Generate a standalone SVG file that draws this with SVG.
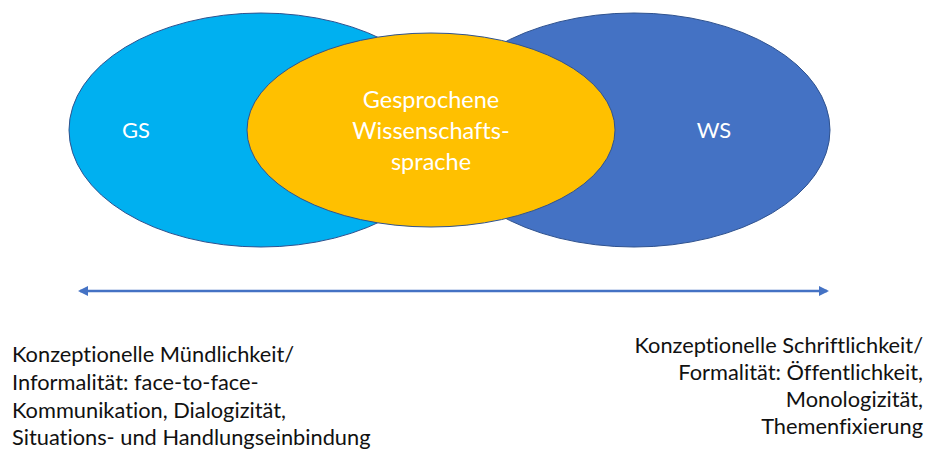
<svg xmlns="http://www.w3.org/2000/svg" width="929" height="449" viewBox="0 0 929 449">
<defs>
<style>
text{font-variant-ligatures:none}
.ell{stroke:#2F528F;stroke-width:1}
.lbl{font-family:"Lato","Open Sans","Liberation Sans",sans-serif;font-size:22px;fill:#FFFFFF}
.mid{font-size:23.5px}
.cap{font-family:"Lato","Open Sans","Liberation Sans",sans-serif;font-size:21.8px;fill:#111111}
.conn{stroke:#4472C4;stroke-width:2.5;fill:none}
</style>
<marker id="ah" viewBox="0 0 10 10" refX="8" refY="5" markerWidth="4" markerHeight="4" orient="auto-start-reverse" markerUnits="strokeWidth">
<path d="M0,0 L10,5 L0,10 Z" fill="#4472C4"/>
</marker>
</defs>
<rect width="929" height="449" fill="#FFFFFF"/>
<g id="GS">
<ellipse class="ell" cx="261" cy="130" rx="192" ry="117" fill="#00B0F0"/>
<text class="lbl" x="136" y="138" text-anchor="middle">GS</text>
</g>
<g id="WS">
<ellipse class="ell" cx="634" cy="130" rx="196" ry="117" fill="#4472C4"/>
<text class="lbl" x="714" y="138" text-anchor="middle">WS</text>
</g>
<g id="GWS">
<ellipse class="ell" cx="431" cy="130" rx="184" ry="97" fill="#FFC000"/>
<text class="lbl mid" text-anchor="middle"><tspan x="431" y="108">Gesprochene</tspan><tspan x="431" y="139">Wissenschafts-</tspan><tspan x="431" y="170">sprache</tspan></text>
</g>
<g id="connectors">
<line class="conn" x1="80" y1="291" x2="827" y2="291" marker-start="url(#ah)" marker-end="url(#ah)"/>
</g>
<g id="left-text">
<text class="cap"><tspan x="12" y="362">Konzeptionelle Mündlichkeit/</tspan><tspan x="12" y="390">Informalität: face-to-face-</tspan><tspan x="12" y="418">Kommunikation, Dialogizität,</tspan><tspan x="12" y="445">Situations- und Handlungseinbindung</tspan></text>
</g>
<g id="right-text">
<text class="cap" text-anchor="end"><tspan x="923" y="353">Konzeptionelle Schriftlichkeit/</tspan><tspan x="923" y="380">Formalität: Öffentlichkeit,</tspan><tspan x="923" y="407">Monologizität,</tspan><tspan x="923" y="434">Themenfixierung</tspan></text>
</g>
</svg>
